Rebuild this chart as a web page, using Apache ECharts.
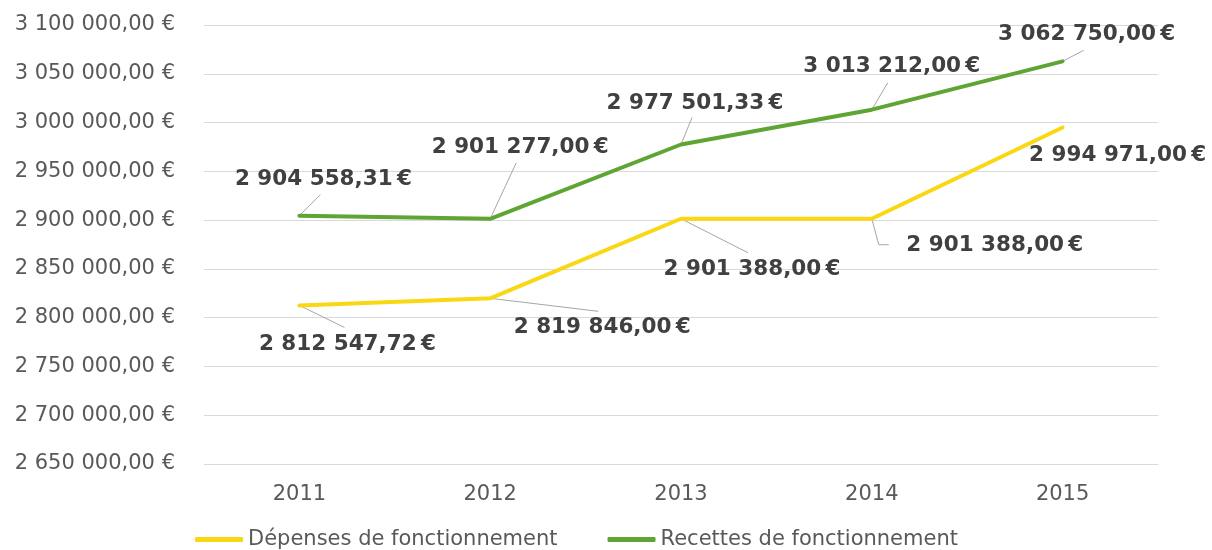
<!DOCTYPE html>
<html>
<head>
<meta charset="utf-8">
<title>Fonctionnement 2011-2015</title>
<script src="https://cdn.jsdelivr.net/npm/echarts@6/dist/echarts.min.js"></script>
<style>
  html, body { margin: 0; padding: 0; background: #ffffff; }
  #chart { width: 1212px; height: 550px; }
</style>
</head>
<body>
<div id="chart"></div>
<script>
// Years on the horizontal axis
const years = ['2011', '2012', '2013', '2014', '2015'];

// Operating expenses and revenues, in euros
const depenses = [2812547.72, 2819846.00, 2901388.00, 2901388.00, 2994971.00];
const recettes = [2904558.31, 2901277.00, 2977501.33, 3013212.00, 3062750.00];

// Series names shown in the legend
const seriesNames = ['Dépenses de fonctionnement', 'Recettes de fonctionnement'];

// Value axis range
const yMin = 2650000;
const yMax = 3100000;
const yStep = 50000;

// Where each value label's centre sits, relative to its point (px): [dx, dy]
const depensesLabelShift = [[48, 39], [112, 29], [71, 51], [123, 27], [55, 28]];
const recettesLabelShift = [[24, -36], [30, -71], [14, -41], [20, -43], [24, -27]];

// Leader lines: bend points relative to the data point (px); null = no leader
const depensesLeader = [
  [[45, 22]],
  [[108, 13]],
  [[67, 34]],
  [[7, 26], [17, 26]],
  null
];
const recettesLeader = [
  [[21, -21]],
  [[26, -56]],
  [[11, -27]],
  [[16, -27]],
  [[21, -11]]
];

// French number format: "2 904 558,31"
function frNumber(v) {
  const fixed = Math.abs(v).toFixed(2);
  const parts = fixed.split('.');
  const intPart = parts[0].replace(/\B(?=(\d{3})+(?!\d))/g, ' ');
  return (v < 0 ? '-' : '') + intPart + ',' + parts[1];
}

const FONT = '"DejaVu Sans", Verdana, sans-serif';
const YELLOW = '#FAD713';
const GREEN = '#5FA533';
const LEADER_COLOR = '#A6A6A6';

const seriesValues = [depenses, recettes];
const shifts = [depensesLabelShift, recettesLabelShift];
const leaders = [depensesLeader, recettesLeader];

const labelStyle = {
  show: true,
  position: 'inside',
  formatter: p => frNumber(p.value) + '\u2009€',
  fontFamily: FONT,
  fontWeight: 'bold',
  fontSize: 21.5,
  color: '#404040'
};

function lineSeries(idx, color) {
  return {
    name: seriesNames[idx],
    type: 'line',
    data: seriesValues[idx],
    symbol: 'circle',
    symbolSize: 1,
    showSymbol: true,
    itemStyle: { color: color },
    lineStyle: { color: color, width: 4, cap: 'round', join: 'round' },
    label: labelStyle,
    emphasis: { disabled: true },
    z: 3 + idx
  };
}

const option = {
  animation: false,
  backgroundColor: '#ffffff',
  textStyle: { fontFamily: FONT },
  grid: { left: 204, right: 54, top: 25, bottom: 86 },
  legend: {
    data: seriesNames,
    left: 190,
    top: 524,
    icon: 'roundRect',
    itemWidth: 48,
    itemHeight: 5,
    itemGap: 50,
    selectedMode: false,
    textStyle: { fontFamily: FONT, fontSize: 21, color: '#595959' }
  },
  xAxis: {
    type: 'category',
    data: years,
    boundaryGap: true,
    axisLine: { show: false },
    axisTick: { show: false },
    axisLabel: { fontFamily: FONT, fontSize: 21, color: '#595959', margin: 20 }
  },
  yAxis: {
    type: 'value',
    min: yMin,
    max: yMax,
    interval: yStep,
    axisLine: { show: false },
    axisTick: { show: false },
    splitLine: { lineStyle: { color: '#D9D9D9', width: 1 } },
    axisLabel: {
      fontFamily: FONT,
      fontSize: 21,
      color: '#595959',
      margin: 29,
      formatter: v => frNumber(v) + ' €'
    }
  },
  series: [lineSeries(0, YELLOW), lineSeries(1, GREEN)],
  labelLayout: function (params) {
    const s = shifts[params.seriesIndex][params.dataIndex];
    return { dx: s[0], dy: s[1] };
  }
};

const chart = echarts.init(document.getElementById('chart'), null, { renderer: 'canvas' });
chart.setOption(option);

// Leader lines from each point towards its value label
const leaderLines = [];
seriesValues.forEach((values, s) => {
  values.forEach((v, i) => {
    const bends = leaders[s][i];
    if (!bends) return;
    const p = chart.convertToPixel({ seriesIndex: s }, [years[i], v]);
    const pts = [p].concat(bends.map(b => [p[0] + b[0], p[1] + b[1]]));
    leaderLines.push({
      type: 'polyline',
      silent: true,
      z: 2,
      shape: { points: pts },
      style: { stroke: LEADER_COLOR, lineWidth: 1, fill: null }
    });
  });
});
chart.setOption({ graphic: { elements: leaderLines } });
</script>
</body>
</html>
